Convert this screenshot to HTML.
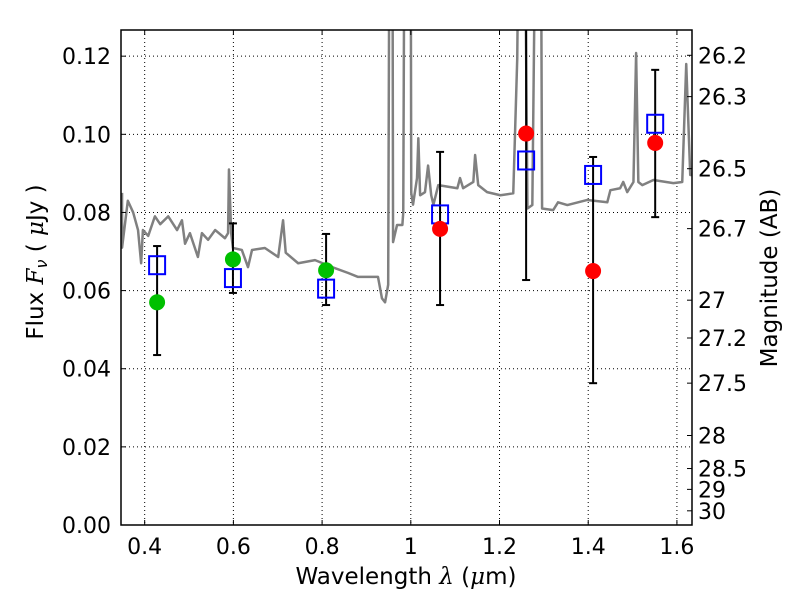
<!DOCTYPE html>
<html><head><meta charset="utf-8"><style>
body{margin:0;background:#fff}
svg text{font-family:"DejaVu Sans","Liberation Sans",sans-serif;fill:#000}
</style></head><body>
<svg id="chart" width="800" height="600" xmlns="http://www.w3.org/2000/svg">
<defs><clipPath id="clip"><rect x="121" y="30" width="571" height="495"/></clipPath></defs>
<rect width="800" height="600" fill="#fff"/>
<g id="grid"></g>
<g id="plot" clip-path="url(#clip)"></g>
<g id="axes"></g>
</svg>
<script>
const specLam=[0.349,0.349,0.362,0.374,0.385,0.392,0.396,0.408,0.423,0.435,0.453,0.473,0.484,0.491,0.502,0.520,0.529,0.543,0.559,0.581,0.588,0.590,0.595,0.599,0.619,0.633,0.642,0.671,0.701,0.712,0.718,0.746,0.784,0.823,0.859,0.881,0.926,0.935,0.942,0.949,0.953,0.958,0.960,0.969,0.981,0.983,0.987,0.999,1.001,1.005,1.014,1.017,1.021,1.032,1.039,1.046,1.051,1.062,1.105,1.111,1.118,1.141,1.145,1.152,1.172,1.202,1.231,1.240,1.247,1.254,1.263,1.274,1.285,1.292,1.296,1.321,1.332,1.353,1.398,1.443,1.450,1.472,1.479,1.488,1.502,1.508,1.513,1.522,1.547,1.592,1.612,1.621,1.630,1.634];
const specFlux=[0.085,0.071,0.083,0.080,0.0755,0.067,0.0755,0.074,0.079,0.077,0.079,0.0755,0.078,0.072,0.0747,0.0686,0.0747,0.073,0.0755,0.0734,0.0747,0.091,0.0747,0.0709,0.0704,0.066,0.0704,0.0709,0.0686,0.078,0.0697,0.067,0.0678,0.066,0.0645,0.0635,0.0635,0.058,0.057,0.0615,0.2,0.2,0.0724,0.0768,0.0768,0.080,0.2,0.2,0.085,0.082,0.0888,0.099,0.0844,0.0852,0.092,0.0844,0.082,0.087,0.0862,0.0888,0.0862,0.0878,0.0947,0.087,0.0852,0.0844,0.0849,0.1195,0.2,0.2,0.081,0.0819,0.2,0.2,0.081,0.0806,0.0826,0.0819,0.0832,0.0826,0.0857,0.0862,0.0878,0.0852,0.0878,0.1208,0.0878,0.087,0.0883,0.0875,0.0878,0.118,0.0896,0.0896];
const greenLam=[0.428,0.599,0.809];
const greenFlux=[0.057,0.068,0.0652];
const redLam=[1.066,1.26,1.411,1.551];
const redFlux=[0.0758,0.1002,0.065,0.0978];
const sqLam=[0.428,0.599,0.809,1.066,1.26,1.411,1.551];
const sqFlux=[0.0665,0.0632,0.0605,0.0795,0.0933,0.0896,0.1027];
const errLam=[0.428,0.599,0.809,1.066,1.26,1.411,1.551];
const errLo=[0.0435,0.0594,0.0563,0.0563,0.0627,0.0363,0.0788];
const errHi=[0.0714,0.0772,0.0745,0.0955,0.14,0.0942,0.1165];
const xTicks=[0.4,0.6,0.8,1.0,1.2,1.4,1.6];
const xTickLabels=["0.4","0.6","0.8","1","1.2","1.4","1.6"];
const yTicks=[0,0.02,0.04,0.06,0.08,0.10,0.12];
const yTickLabels=["0.00","0.02","0.04","0.06","0.08","0.10","0.12"];
const magTicks=[26.2,26.3,26.5,26.7,27,27.2,27.5,28,28.5,29,30];
const magLabels=["26.2","26.3","26.5","26.7","27","27.2","27.5","28","28.5","29","30"];

const X0=121,X1=692,Y0=30,Y1=525,xmin=0.3466,xmax=1.634,ymin=0,ymax=0.1267;
const sx=v=>X0+(v-xmin)/(xmax-xmin)*(X1-X0);
const sy=v=>Y1-(v-ymin)/(ymax-ymin)*(Y1-Y0);
const NS="http://www.w3.org/2000/svg";
function mk(tag,attrs,parent){const e=document.createElementNS(NS,tag);for(const k in attrs)e.setAttribute(k,attrs[k]);parent.appendChild(e);return e;}
const grid=document.getElementById('grid'),plot=document.getElementById('plot'),axes=document.getElementById('axes');

xTicks.forEach((t,i)=>{
  const g=mk('line',{x1:sx(t),x2:sx(t),y1:Y0,y2:Y1,stroke:'#000','stroke-width':1,'stroke-dasharray':'1,3'},grid);
  
  
  mk('line',{x1:sx(t),x2:sx(t),y1:Y1,y2:Y1-5,stroke:'#000'},axes);
  mk('line',{x1:sx(t),x2:sx(t),y1:Y0,y2:Y0+5,stroke:'#000'},axes);
  const tx=mk('text',{x:sx(t),y:Y1+29,'text-anchor':'middle','font-size':22},axes);
  tx.textContent=xTickLabels[i];
  
  
});
yTicks.forEach((t,i)=>{
  const g=mk('line',{x1:X0,x2:X1,y1:sy(t),y2:sy(t),stroke:'#000','stroke-width':1,'stroke-dasharray':'1,3'},grid);
  
  
  mk('line',{x1:X0,x2:X0+5,y1:sy(t),y2:sy(t),stroke:'#000'},axes);
  const tx=mk('text',{x:X0-10,y:sy(t)+8,'text-anchor':'end','font-size':22},axes);
  tx.textContent=yTickLabels[i];
  
  
});
magTicks.forEach((m,i)=>{
  const f=Math.pow(10,(23.9-m)/2.5);
  mk('line',{x1:X1-5,x2:X1,y1:sy(f),y2:sy(f),stroke:'#000'},axes);
  const tx=mk('text',{x:X1+6,y:sy(f)+8,'font-size':22},axes);
  tx.textContent=magLabels[i];
  
  
});

const sp=mk('polyline',{points:specLam.map((l,i)=>sx(l)+','+sy(specFlux[i])).join(' '),fill:'none',stroke:'#808080','stroke-width':2.5,'stroke-linejoin':'round'},plot);



errLam.forEach((l,i)=>{
  const g=mk('g',{stroke:'#000','stroke-width':2},plot);
  
  
  mk('line',{x1:sx(l),x2:sx(l),y1:sy(errLo[i]),y2:sy(errHi[i])},g);
  mk('line',{x1:sx(l)-4,x2:sx(l)+4,y1:sy(errLo[i]),y2:sy(errLo[i])},g);
  mk('line',{x1:sx(l)-4,x2:sx(l)+4,y1:sy(errHi[i]),y2:sy(errHi[i])},g);
});
sqLam.forEach((l,i)=>{
  const r=mk('rect',{x:sx(l)-8,y:sy(sqFlux[i])-9,width:16,height:18,fill:'none',stroke:'#0000ff','stroke-width':2},plot);
  
  
});
greenLam.forEach((l,i)=>{
  const c=mk('circle',{cx:sx(l),cy:sy(greenFlux[i]),r:8,fill:'#00c000'},plot);
  
  
});
redLam.forEach((l,i)=>{
  const c=mk('circle',{cx:sx(l),cy:sy(redFlux[i]),r:8,fill:'#ff0000'},plot);
  
  
});

const fr=mk('rect',{x:X0,y:Y0,width:X1-X0,height:Y1-Y0,fill:'none',stroke:'#000','stroke-width':1.5},axes);



const xl=mk('text',{x:406,y:584,'text-anchor':'middle','font-size':23},axes);
xl.innerHTML='Wavelength  <tspan font-style="italic" font-family="DejaVu Serif, serif">λ</tspan> (<tspan font-style="italic" font-family="DejaVu Serif, serif">μ</tspan>m)';


const yl=mk('text',{x:0,y:0,'text-anchor':'middle','font-size':23,transform:'translate(43,262) rotate(-90)'},axes);
yl.innerHTML='Flux  <tspan font-style="italic" font-family="DejaVu Serif, serif">F</tspan><tspan font-style="italic" font-size="16" dy="4">ν</tspan><tspan dy="-4">  (  </tspan><tspan font-style="italic" font-family="DejaVu Serif, serif">μ</tspan>Jy )';


const yr=mk('text',{x:0,y:0,'text-anchor':'middle','font-size':23,transform:'translate(777,278) rotate(-90)'},axes);
yr.textContent='Magnitude (AB)';


</script>
</body></html>
